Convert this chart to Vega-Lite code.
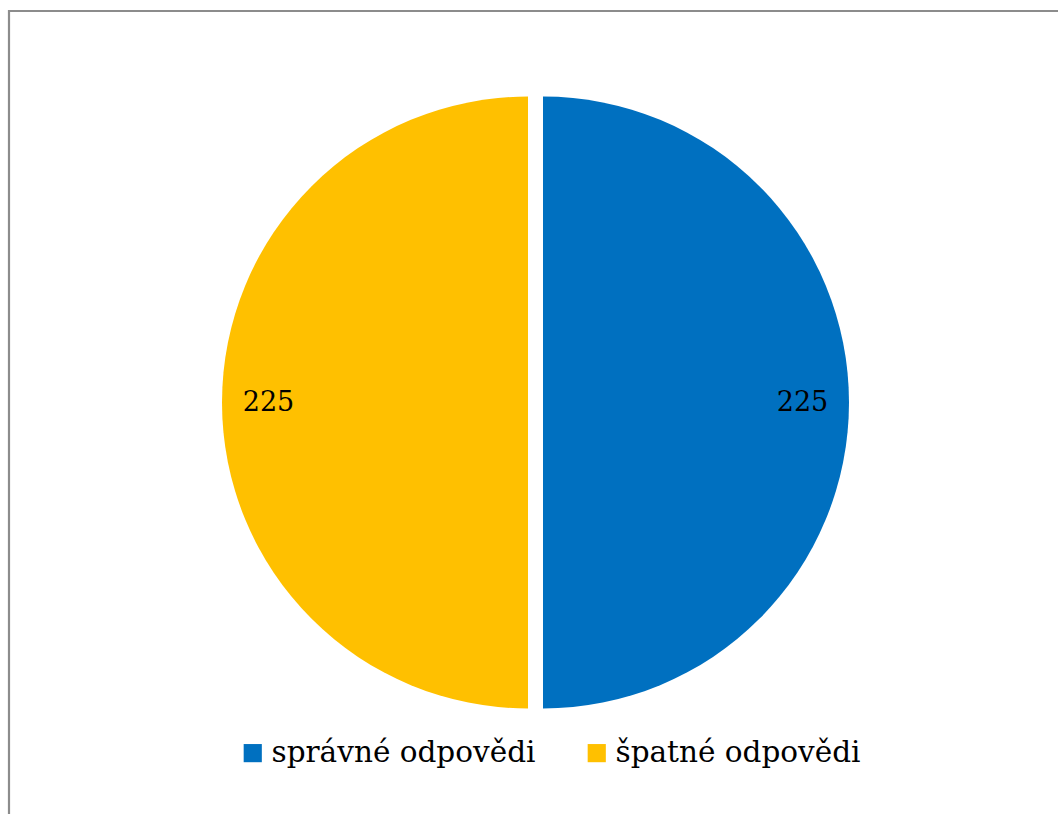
{
  "$schema": "https://vega.github.io/schema/vega-lite/v6.json",
  "width": 1053,
  "height": 850,
  "padding": {"left": 9, "top": 11, "right": 0, "bottom": 0},
  "autosize": {"type": "none"},
  "background": "white",
  "view": {"stroke": "#8c8c8c", "strokeWidth": 2.2, "fill": "white"},
  "config": {
    "font": "DejaVu Serif"
  },
  "data": {
    "values": [
      {"kategorie": "správné odpovědi", "pocet": 225},
      {"kategorie": "špatné odpovědi", "pocet": 225}
    ]
  },
  "transform": [
    {"stack": "pocet", "groupby": [], "as": ["zacatek", "konec"]}
  ],
  "encoding": {
    "color": {
      "field": "kategorie",
      "type": "nominal",
      "scale": {
        "domain": ["správné odpovědi", "špatné odpovědi"],
        "range": ["#0070C0", "#FFC000"]
      },
      "legend": {
        "title": null,
        "orient": "none",
        "legendX": 229,
        "legendY": 727,
        "direction": "horizontal",
        "columns": 2,
        "columnPadding": 46,
        "symbolType": "square",
        "symbolSize": 330,
        "symbolStrokeWidth": 0,
        "symbolOpacity": 1,
        "labelFont": "DejaVu Serif",
        "labelFontSize": 29.5,
        "labelColor": "#000000",
        "labelOffset": 4,
        "labelLimit": 400
      }
    }
  },
  "layer": [
    {
      "transform": [{"filter": "datum.kategorie === 'správné odpovědi'"}],
      "mark": {"type": "arc", "radius": 306, "xOffset": 7.5, "yOffset": -33.5},
      "encoding": {
        "theta": {"field": "zacatek", "type": "quantitative"},
        "theta2": {"field": "konec"}
      }
    },
    {
      "transform": [{"filter": "datum.kategorie === 'špatné odpovědi'"}],
      "mark": {"type": "arc", "radius": 306, "xOffset": -7.5, "yOffset": -33.5},
      "encoding": {
        "theta": {"field": "zacatek", "type": "quantitative"},
        "theta2": {"field": "konec"}
      }
    },
    {
      "mark": {
        "type": "text",
        "radius": 267,
        "yOffset": -33.5,
        "font": "DejaVu Serif",
        "fontSize": 27,
        "fill": "#000000"
      },
      "encoding": {
        "theta": {"field": "pocet", "type": "quantitative", "stack": true},
        "text": {"field": "pocet", "type": "quantitative"},
        "color": {"value": "#000000"}
      }
    }
  ]
}
